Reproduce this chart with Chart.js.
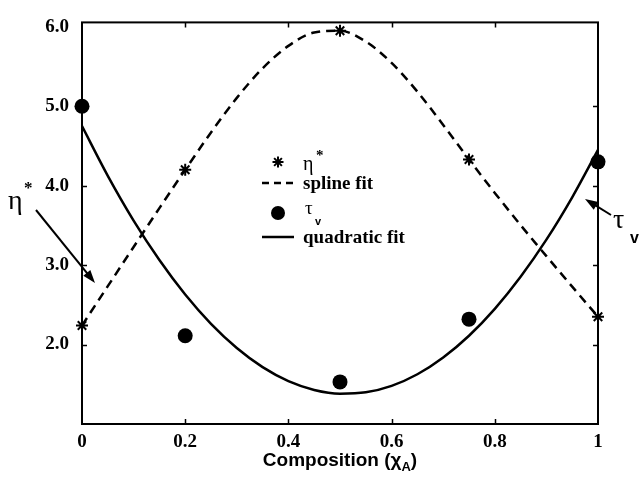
<!DOCTYPE html>
<html>
<head>
<meta charset="utf-8">
<script src="https://cdn.jsdelivr.net/npm/chart.js@4"></script>
<style>
  html, body { margin: 0; padding: 0; background: #fff; }
  #chart { display: block; }
</style>
</head>
<body>
<canvas id="chart" width="642" height="485"></canvas>
<script>
"use strict";

// measured points
const compX = [0, 0.2, 0.5, 0.75, 1];
const etaStar = [2.24, 4.2, 5.95, 4.33, 2.35];
const tauV = [5.0, 2.11, 1.53, 2.32, 4.3];

// fitted curves, read along x every 0.05
const fitX = [0, 0.05, 0.1, 0.15, 0.2, 0.25, 0.3, 0.35, 0.4, 0.45, 0.5,
  0.55, 0.6, 0.65, 0.7, 0.75, 0.8, 0.85, 0.9, 0.95, 1];
const splineFit = [2.24, 2.735, 3.228, 3.717, 4.2, 4.67, 5.105, 5.477, 5.76, 5.927, 5.95,
  5.814, 5.545, 5.183, 4.765, 4.33, 3.909, 3.504, 3.113, 2.729, 2.35];
const quadraticFit = [4.75, 4.124, 3.561, 3.064, 2.63, 2.261, 1.957, 1.716, 1.54, 1.429, 1.382,
  1.399, 1.48, 1.626, 1.837, 2.111, 2.45, 2.854, 3.321, 3.854, 4.45];

// axis ticks
const xTickValues = [0, 0.2, 0.4, 0.6, 0.8, 1];
const xTickLabels = ["0", "0.2", "0.4", "0.6", "0.8", "1"];
const yTickValues = [2, 3, 4, 5, 6];
const yTickLabels = ["2.0", "3.0", "4.0", "5.0", "6.0"];

const toPoints = (xs, ys) => xs.map((x, i) => ({ x, y: ys[i] }));

const serifBold = "bold 19px 'Liberation Serif', 'Times New Roman', serif";

const drawArrow = (ctx, x1, y1, x2, y2) => {
  const ang = Math.atan2(y2 - y1, x2 - x1);
  const len = 13;
  const half = 4.5;
  ctx.beginPath();
  ctx.moveTo(x1, y1);
  ctx.lineTo(x2 - Math.cos(ang) * len * 0.8, y2 - Math.sin(ang) * len * 0.8);
  ctx.stroke();
  ctx.beginPath();
  ctx.moveTo(x2, y2);
  ctx.lineTo(x2 - Math.cos(ang) * len - Math.sin(ang) * half, y2 - Math.sin(ang) * len + Math.cos(ang) * half);
  ctx.lineTo(x2 - Math.cos(ang) * len + Math.sin(ang) * half, y2 - Math.sin(ang) * len - Math.cos(ang) * half);
  ctx.closePath();
  ctx.fill();
};

const drawStar = (ctx, x, y, r) => {
  ctx.beginPath();
  for (let k = 0; k < 4; k++) {
    const a = (k * Math.PI) / 4;
    ctx.moveTo(x - Math.cos(a) * r, y - Math.sin(a) * r);
    ctx.lineTo(x + Math.cos(a) * r, y + Math.sin(a) * r);
  }
  ctx.stroke();
};

// frame, inward ticks, legend, side labels and axis title
const decorations = {
  id: "decorations",
  beforeDatasetsDraw(chart) {
    const { ctx, chartArea: area, scales } = chart;
    const xs = scales.x;
    const ys = scales.y;
    ctx.save();
    ctx.strokeStyle = "#000";
    ctx.lineWidth = 2;
    ctx.strokeRect(area.left, area.top - 2, area.right - area.left, area.bottom - area.top + 2);

    ctx.lineWidth = 1.5;
    ctx.beginPath();
    xTickValues.slice(1, -1).forEach((v) => {
      const px = Math.round(xs.getPixelForValue(v)) + 0.5;
      ctx.moveTo(px, area.bottom);
      ctx.lineTo(px, area.bottom - 5);
      ctx.moveTo(px, area.top - 2);
      ctx.lineTo(px, area.top + 3);
    });
    yTickValues.slice(0, -1).forEach((v) => {
      const py = Math.round(ys.getPixelForValue(v)) + 0.5;
      ctx.moveTo(area.left, py);
      ctx.lineTo(area.left + 5, py);
      ctx.moveTo(area.right, py);
      ctx.lineTo(area.right - 5, py);
    });
    ctx.stroke();
    ctx.restore();
  },
  afterDraw(chart) {
    const { ctx, chartArea: area } = chart;
    ctx.save();
    ctx.strokeStyle = "#000";
    ctx.fillStyle = "#000";

    // legend
    ctx.lineWidth = 2;
    drawStar(ctx, 278, 162, 5.5);
    ctx.font = "20px 'Liberation Serif', serif";
    ctx.textBaseline = "alphabetic";
    ctx.fillText("η", 303, 170);
    ctx.font = "bold 15px 'Liberation Serif', serif";
    ctx.fillText("*", 316, 160);

    ctx.lineWidth = 2.5;
    ctx.setLineDash([7, 5]);
    ctx.beginPath();
    ctx.moveTo(262, 183);
    ctx.lineTo(294, 183);
    ctx.stroke();
    ctx.setLineDash([]);
    ctx.font = serifBold;
    ctx.fillText("spline fit", 303, 189);

    ctx.beginPath();
    ctx.arc(278, 213, 7, 0, Math.PI * 2);
    ctx.fill();
    ctx.font = "19px 'Liberation Serif', serif";
    ctx.fillText("τ", 305, 214);
    ctx.font = "bold 11px 'Liberation Sans', Arial, sans-serif";
    ctx.fillText("v", 315, 225);

    ctx.beginPath();
    ctx.moveTo(262, 237);
    ctx.lineTo(294, 237);
    ctx.stroke();
    ctx.font = serifBold;
    ctx.fillText("quadratic fit", 303, 243);

    // side labels with arrows
    ctx.font = "28px 'Liberation Serif', serif";
    ctx.fillText("η", 8, 209);
    ctx.font = "bold 17px 'Liberation Serif', serif";
    ctx.fillText("*", 24, 193);
    ctx.lineWidth = 2;
    drawArrow(ctx, 36, 210, 95, 283);

    ctx.font = "28px 'Liberation Serif', serif";
    ctx.fillText("τ", 613, 228);
    ctx.font = "bold 16px 'Liberation Sans', Arial, sans-serif";
    ctx.fillText("v", 630, 243);
    drawArrow(ctx, 611, 215, 585, 199);

    // axis title with subscript
    const mainFont = "bold 19px 'Liberation Sans', Arial, sans-serif";
    const subFont = "bold 13px 'Liberation Sans', Arial, sans-serif";
    const partA = "Composition (χ";
    const partB = "A";
    const partC = ")";
    ctx.font = mainFont;
    const wA = ctx.measureText(partA).width;
    const wC = ctx.measureText(partC).width;
    ctx.font = subFont;
    const wB = ctx.measureText(partB).width;
    const total = wA + wB + wC;
    let tx = (area.left + area.right) / 2 - total / 2;
    const ty = 466;
    ctx.font = mainFont;
    ctx.fillText(partA, tx, ty);
    tx += wA;
    ctx.font = subFont;
    ctx.fillText(partB, tx, ty + 5);
    tx += wB;
    ctx.font = mainFont;
    ctx.fillText(partC, tx, ty);
    ctx.restore();
  },
};

const chart = new Chart(document.getElementById("chart"), {
  type: "scatter",
  data: {
    datasets: [
      {
        label: "η*",
        data: toPoints(compX, etaStar),
        pointStyle: "star",
        pointRadius: 6,
        pointBorderWidth: 2,
        borderColor: "#000",
        backgroundColor: "#000",
        showLine: false,
        clip: false,
      },
      {
        label: "τv",
        data: toPoints(compX, tauV),
        pointStyle: "circle",
        pointRadius: 7.5,
        pointBorderWidth: 0,
        borderColor: "#000",
        backgroundColor: "#000",
        showLine: false,
        clip: false,
      },
      {
        label: "spline fit",
        data: toPoints(fitX, splineFit),
        showLine: true,
        pointRadius: 0,
        borderColor: "#000",
        borderWidth: 2.5,
        borderDash: [9, 6],
        cubicInterpolationMode: "monotone",
      },
      {
        label: "quadratic fit",
        data: toPoints(fitX, quadraticFit),
        showLine: true,
        pointRadius: 0,
        borderColor: "#000",
        borderWidth: 2.5,
        cubicInterpolationMode: "monotone",
      },
    ],
  },
  options: {
    responsive: false,
    animation: false,
    devicePixelRatio: 1,
    layout: { padding: { left: 0, right: 44, top: 10, bottom: 0 } },
    plugins: {
      legend: { display: false },
      tooltip: { enabled: false },
    },
    scales: {
      x: {
        type: "linear",
        min: 0,
        max: 1,
        afterBuildTicks: (scale) => {
          scale.ticks = xTickValues.map((value) => ({ value }));
        },
        afterFit: (scale) => {
          scale.height = 61;
        },
        grid: { display: false, drawTicks: false },
        border: { display: false },
        ticks: {
          color: "#000",
          font: { family: "'Liberation Serif', serif", size: 19, weight: "bold" },
          padding: 7,
          maxRotation: 0,
          callback: (value, index) => xTickLabels[index],
        },
      },
      y: {
        min: 1,
        max: 6.03,
        afterBuildTicks: (scale) => {
          scale.ticks = yTickValues.map((value) => ({ value }));
        },
        afterFit: (scale) => {
          scale.width = 82;
        },
        grid: { display: false, drawTicks: false },
        border: { display: false },
        ticks: {
          color: "#000",
          font: { family: "'Liberation Serif', serif", size: 19, weight: "bold" },
          padding: 13,
          callback: (value, index) => yTickLabels[index],
        },
      },
    },
  },
  plugins: [decorations],
});
</script>
</body>
</html>
